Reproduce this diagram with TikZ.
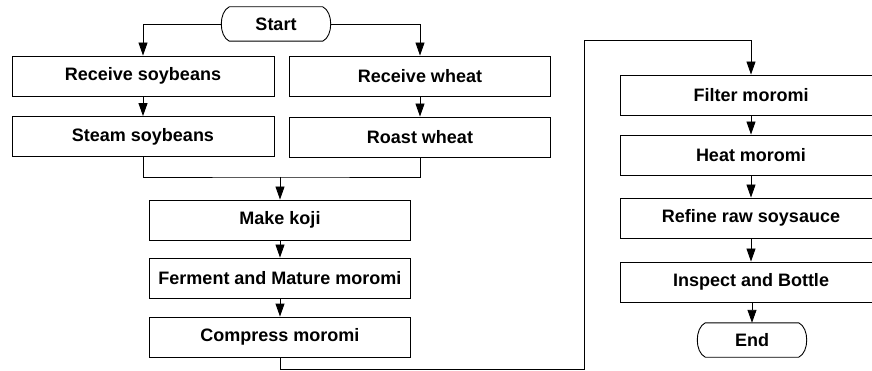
\documentclass[tikz,border=0pt]{standalone}
\usepackage{fontspec}
\setmainfont{Liberation Sans}
\usetikzlibrary{arrows.meta}
\tikzset{
  box/.style={draw, line width=0.9pt, minimum width=261pt, minimum height=40pt, inner sep=0pt,
    font=\fontsize{18}{20}\selectfont\bfseries},
  term/.style={minimum width=109pt, minimum height=34pt, inner sep=0pt,
    font=\fontsize{18}{20}\selectfont\bfseries},
  line/.style={line width=0.9pt},
  arr/.style={line width=0.9pt, -{Triangle[length=13pt,width=9pt]}},
}
\newcommand{\termdraw}[1]{%
  \draw[line width=0.9pt] ([xshift=8pt]#1.north west) -- ([xshift=-8pt]#1.north east)
    .. controls ([xshift=2.7pt,yshift=-5pt]#1.north east) and ([xshift=2.7pt,yshift=5pt]#1.south east) .. ([xshift=-8pt]#1.south east)
    -- ([xshift=8pt]#1.south west)
    .. controls ([xshift=-2.7pt,yshift=5pt]#1.south west) and ([xshift=-2.7pt,yshift=-5pt]#1.north west) .. ([xshift=8pt]#1.north west) -- cycle;}
\begin{document}
\begin{tikzpicture}[x=1pt,y=-1pt]
  \fill[white] (0,0) rectangle (872,371);
  \clip (0,0) rectangle (872,371);
  \useasboundingbox (0,0) rectangle (872,371);

  \node[term] (start) at (276,24) {Start};
  \termdraw{start}
  \node[box, minimum width=262pt] (rs) at (143,76) {Receive soybeans};
  \node[box, minimum width=262pt] (ss) at (143,136.5) {Steam soybeans};
  \node[box] (rw) at (420,76) {Receive wheat};
  \node[box] (rt) at (420,137) {Roast wheat};
  \coordinate (j) at (280,177);
  \node[box] (mk) at (280,220) {Make koji};
  \node[box] (fm) at (280,278) {Ferment and Mature moromi};
  \node[box] (cm) at (280,337) {Compress moromi};
  \coordinate (c1) at (584,369);
  \coordinate (c2) at (751,40);
  \node[box] (fi) at (751,95) {Filter moromi};
  \node[box] (hm) at (751,155) {Heat moromi};
  \node[box] (rf) at (751,218) {Refine raw soysauce};
  \node[box] (ib) at (751,282) {Inspect and Bottle};
  \node[term] (end) at (752,340) {End};
  \termdraw{end}

  \draw[arr] (start.west) -| (rs.north);
  \draw[arr] (start.east) -| (rw.north);
  \draw[arr] (rs) -- (ss);
  \draw[arr] (rw) -- (rt);
  \draw[line] (ss.south) |- (j) -| (rt.south);
  \draw[arr] (j) -- (mk.north);
  \draw[arr] (mk) -- (fm);
  \draw[arr] (fm) -- (cm);
  \draw[arr] (cm.south) |- (c1) |- (c2) -- (fi.north);
  \draw[arr] (fi) -- (hm);
  \draw[arr] (hm) -- (rf);
  \draw[arr] (rf) -- (ib);
  \draw[arr] (ib.south -| end.north) -- (end.north);
\end{tikzpicture}
\end{document}
